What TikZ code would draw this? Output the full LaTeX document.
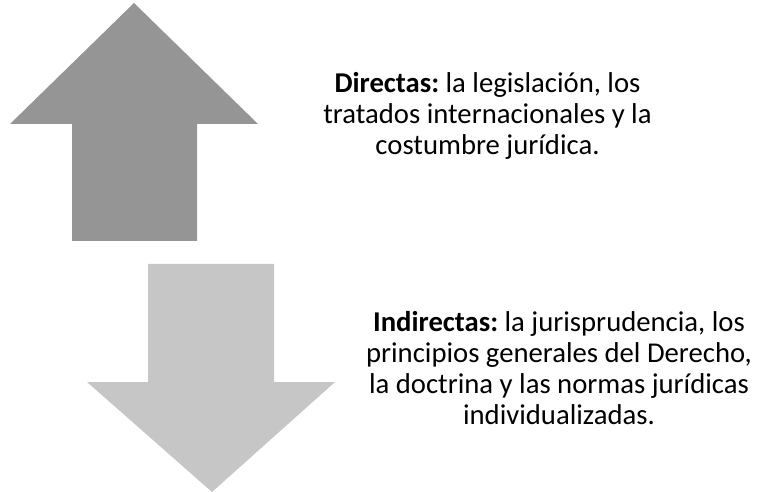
\documentclass[tikz,border=0pt]{standalone}
\usepackage{fontspec}
\setmainfont{Carlito}
\frenchspacing
\definecolor{darkarrow}{HTML}{959595}
\definecolor{lightarrow}{HTML}{C6C6C6}
\tikzset{
  fuente/.style={align=center, font=\fontsize{28.8}{31.2}\selectfont, inner sep=0pt}
}
\begin{document}
\begin{tikzpicture}[x=1bp, y=-1bp]

% Fix the page size
\useasboundingbox (0,0) rectangle (765,492);

% Draw the up arrow
\fill[darkarrow] (134,3) -- (258,124) -- (197,124) -- (197,241)
  -- (72,241) -- (72,124) -- (10,124) -- cycle;

% Draw the down arrow
\fill[lightarrow] (148,264) -- (274,264) -- (274,382) -- (335,382)
  -- (212,492) -- (87,382) -- (148,382) -- cycle;

% Label the arrows
\node[fuente] (directas) at (487.5,116)
  {\textbf{Directas:} la legislación, los\\tratados internacionales y la\\costumbre jurídica.};
\node[fuente] (indirectas) at (559,368)
  {\textbf{Indirectas:} la jurisprudencia, los\\principios generales del Derecho,\\la doctrina y las normas jurídicas\\individualizadas.};

\end{tikzpicture}
\end{document}
